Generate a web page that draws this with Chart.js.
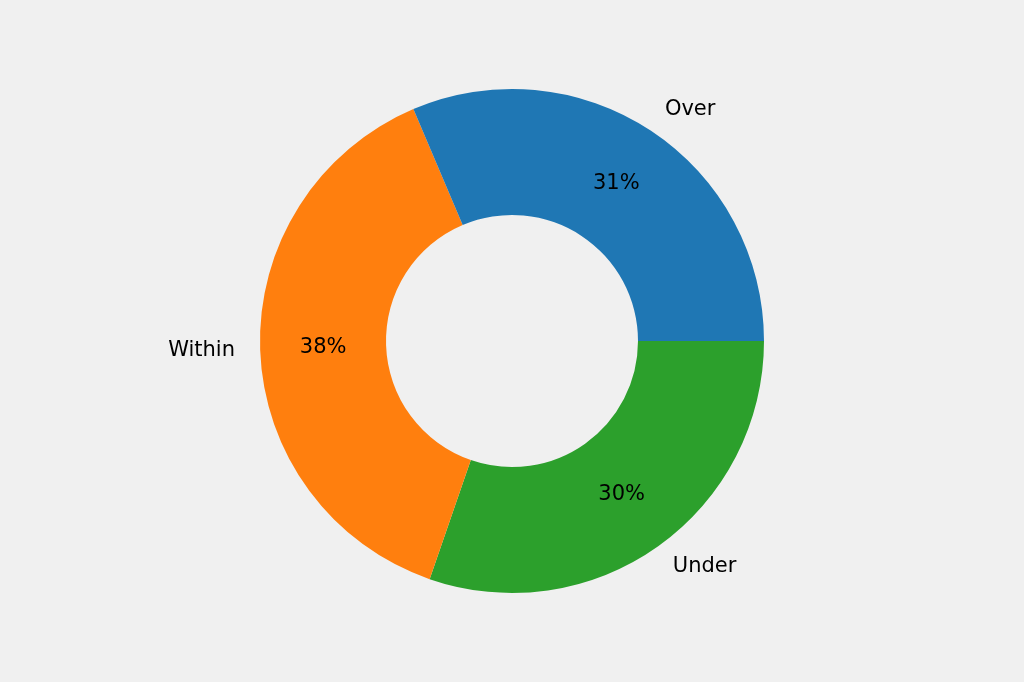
<!DOCTYPE html>
<html><head><meta charset="utf-8">
<script src="https://cdn.jsdelivr.net/npm/chart.js@4"></script>
<style>html,body{margin:0;background:#f0f0f0}#w{width:1024px;height:682px}</style>
</head><body><div id="w"><canvas id="c"></canvas></div>
<script>
// Ordered clockwise from 3 o'clock (reference is counterclockwise Over, Within, Under)
const categories = ["Under", "Within", "Over"];
const values = [30.3, 38.3, 31.4];
const colors = ["#2ca02c", "#ff7f0e", "#1f77b4"];

const labelPlugin = {
  id: 'lbl',
  afterDatasetsDraw(chart) {
    const ctx = chart.ctx;
    const meta = chart.getDatasetMeta(0);
    const total = values.reduce((a, b) => a + b, 0);
    ctx.save();
    ctx.fillStyle = '#000';
    ctx.font = '21px "DejaVu Sans", sans-serif';
    meta.data.forEach((arc, i) => {
      const p = arc.getProps(['x', 'y', 'startAngle', 'endAngle', 'outerRadius']);
      const a = (p.startAngle + p.endAngle) / 2;
      const R = p.outerRadius;
      const cx = Math.cos(a), cy = Math.sin(a);
      ctx.textBaseline = 'middle';
      ctx.textAlign = 'center';
      ctx.fillText(Math.round(values[i] / total * 100) + '%', p.x + cx * R * 0.75, p.y + cy * R * 0.75);
      ctx.textAlign = cx >= 0 ? 'left' : 'right';
      ctx.fillText(categories[i], p.x + cx * R * 1.1, p.y + cy * R * 1.1);
    });
    ctx.restore();
  }
};

new Chart(document.getElementById('c'), {
  type: 'doughnut',
  data: { labels: categories, datasets: [{ data: values, backgroundColor: colors, borderWidth: 0 }] },
  options: {
    responsive: true, maintainAspectRatio: false, animation: false,
    rotation: 90, cutout: '50%',
    layout: { padding: 89 },
    plugins: { legend: { display: false }, tooltip: { enabled: false } }
  },
  plugins: [labelPlugin]
});
</script></body></html>
